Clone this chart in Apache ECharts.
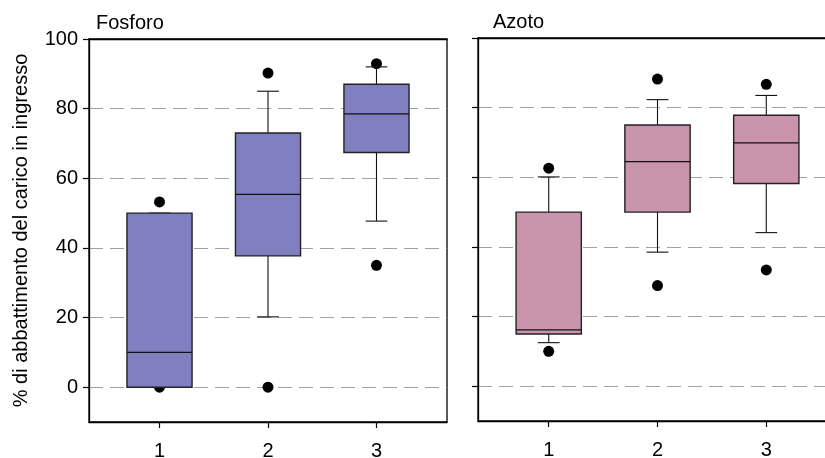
<!DOCTYPE html>
<html>
<head>
<meta charset="utf-8">
<script src="https://cdn.jsdelivr.net/npm/echarts@6/dist/echarts.min.js"></script>
<style>html,body{margin:0;padding:0;background:#fff}#c{width:825px;height:458px}</style>
</head>
<body>
<div id="c"></div>
<script>
// Data: [x, lower whisker, Q1, median, Q3, upper whisker]
var categories = [1, 2, 3];
var yTicks = [0, 20, 40, 60, 80, 100];
var panelTitles = ['Fosforo', 'Azoto'];
var yAxisName = '% di abbattimento del carico in ingresso';

var fosforoBoxes = [
  [1, 0, 0, 10, 50, 50],
  [2, 20.2, 37.7, 55.4, 73, 85],
  [3, 47.7, 67.4, 78.5, 87, 92]
];
var fosforoOutliers = [
  [1, 53.2], [1, 0],
  [2, 90.2], [2, 0],
  [3, 92.9], [3, 35]
];
var azotoBoxes = [
  [1, 12.5, 15, 16.2, 50, 60.1],
  [2, 38.5, 50, 64.5, 75, 82.3],
  [3, 44.1, 58.2, 69.9, 77.8, 83.5]
];
var azotoOutliers = [
  [1, 62.6], [1, 10],
  [2, 88.2], [2, 28.9],
  [3, 86.7], [3, 33.4]
];

var FONT = 'Liberation Sans, Arial, sans-serif';

function boxRenderer(fill) {
  return function (params, api) {
    var x = api.value(0);
    var pMin = api.coord([x, api.value(1)]);
    var pQ1 = api.coord([x, api.value(2)]);
    var pMed = api.coord([x, api.value(3)]);
    var pQ3 = api.coord([x, api.value(4)]);
    var pMax = api.coord([x, api.value(5)]);
    var bw = api.size([0.6, 0])[0];
    var cw = api.size([0.2, 0])[0];
    var cx = pMed[0];
    var lineStyle = { stroke: '#111', lineWidth: 1.1 };
    return {
      type: 'group',
      children: [
        { type: 'line', shape: { x1: cx, y1: pQ3[1], x2: cx, y2: pMax[1] }, style: lineStyle },
        { type: 'line', shape: { x1: cx - cw / 2, y1: pMax[1], x2: cx + cw / 2, y2: pMax[1] }, style: lineStyle },
        { type: 'line', shape: { x1: cx, y1: pQ1[1], x2: cx, y2: pMin[1] }, style: lineStyle },
        { type: 'line', shape: { x1: cx - cw / 2, y1: pMin[1], x2: cx + cw / 2, y2: pMin[1] }, style: lineStyle },
        { type: 'rect', shape: { x: cx - bw / 2, y: pQ3[1], width: bw, height: pQ1[1] - pQ3[1] },
          style: { fill: fill, stroke: '#222', lineWidth: 1.4 } },
        { type: 'line', shape: { x1: cx - bw / 2, y1: pMed[1], x2: cx + bw / 2, y2: pMed[1] }, style: { stroke: '#111', lineWidth: 1.3 } }
      ]
    };
  };
}

function xAxisDef(idx) {
  return {
    type: 'value', gridIndex: idx, min: 0.35, max: 3.65,
    axisLine: { show: true, onZero: false, lineStyle: { color: '#000', width: 1.3 } },
    axisTick: { show: true, inside: false, length: 6, customValues: categories, lineStyle: { color: '#000', width: 1.2 } },
    axisLabel: { customValues: categories, color: '#000', fontSize: 20, fontFamily: FONT, margin: 19 },
    splitLine: { show: false }
  };
}
function xTopAxisDef(idx) {
  return {
    type: 'value', gridIndex: idx, min: 0.35, max: 3.65, position: 'top', z: 10,
    axisLine: { show: true, onZero: false, lineStyle: { color: '#000', width: 1.3 } },
    axisTick: { show: false }, axisLabel: { show: false }, splitLine: { show: false }
  };
}
function yAxisDef(idx, showLabels) {
  var a = {
    type: 'value', gridIndex: idx, min: -10, max: 100,
    axisLine: { show: true, onZero: false, lineStyle: { color: '#000', width: 1.3 } },
    axisTick: { show: true, inside: false, length: 6, customValues: yTicks, lineStyle: { color: '#000', width: 1.2 } },
    axisLabel: { show: showLabels, customValues: yTicks, color: '#000', fontSize: 20, fontFamily: FONT, margin: 11 },
    splitLine: { show: true, lineStyle: { color: '#a0a0a0', width: 1.2, type: [14, 7] } }
  };
  if (showLabels) {
    a.name = yAxisName;
    a.nameLocation = 'middle';
    a.nameGap = 58;
    a.nameTextStyle = { color: '#000', fontSize: 20, fontFamily: FONT };
  }
  return a;
}

var chart = echarts.init(document.getElementById('c'), null, { renderer: 'canvas' });
chart.setOption({
  animation: false,
  backgroundColor: '#fff',
  title: [
    { text: panelTitles[0], left: 96, top: 13, padding: 0, textStyle: { fontSize: 20, fontWeight: 'normal', color: '#000', fontFamily: FONT } },
    { text: panelTitles[1], left: 493, top: 12, padding: 0, textStyle: { fontSize: 20, fontWeight: 'normal', color: '#000', fontFamily: FONT } }
  ],
  grid: [
    { left: 89, top: 39, width: 358, height: 383, outerBoundsMode: 'none', containLabel: false, show: true, borderColor: '#000', borderWidth: 1.3, backgroundColor: 'transparent' },
    { left: 478, top: 38, width: 359, height: 383, outerBoundsMode: 'none', containLabel: false, show: true, borderColor: '#000', borderWidth: 1.3, backgroundColor: 'transparent' }
  ],
  xAxis: [xAxisDef(0), xAxisDef(1), xTopAxisDef(0), xTopAxisDef(1)],
  yAxis: [yAxisDef(0, true), yAxisDef(1, false)],
  series: [
    { type: 'scatter', xAxisIndex: 0, yAxisIndex: 0, data: fosforoOutliers, symbolSize: 11, itemStyle: { color: '#000', opacity: 1 }, z: 1 },
    { type: 'custom', xAxisIndex: 0, yAxisIndex: 0, data: fosforoBoxes, renderItem: boxRenderer('#8080C0'), encode: { x: 0, y: [1, 2, 3, 4, 5] }, z: 3 },
    { type: 'scatter', xAxisIndex: 1, yAxisIndex: 1, data: azotoOutliers, symbolSize: 11, itemStyle: { color: '#000', opacity: 1 }, z: 1 },
    { type: 'custom', xAxisIndex: 1, yAxisIndex: 1, data: azotoBoxes, renderItem: boxRenderer('#C994AC'), encode: { x: 0, y: [1, 2, 3, 4, 5] }, z: 3 }
  ]
});
</script>
</body>
</html>
